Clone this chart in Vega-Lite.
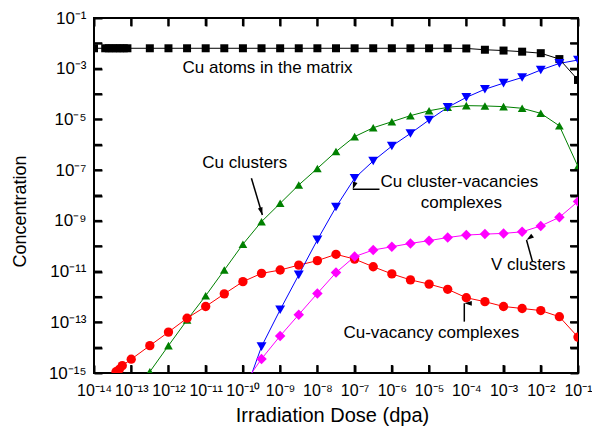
{
  "$schema": "https://vega.github.io/schema/vega-lite/v6.json",
  "width": 484,
  "height": 355,
  "autosize": "none",
  "padding": {"left": 94, "top": 18, "right": 14, "bottom": 56},
  "background": "white",
  "config": {
    "view": {"stroke": "black", "strokeWidth": 2},
    "font": "Liberation Sans",
    "axis": {"domain": false, "grid": false, "ticks": true, "tickOpacity": 1, "tickColor": "#000000", "tickWidth": 2, "labelColor": "black", "titleColor": "black", "labelFont": "Liberation Sans", "titleFont": "Liberation Sans", "titleFontWeight": "normal"}
  },
  "datasets": {
    "series": [
      {"series": "Cu atoms", "dose": 1e-14, "conc": 6.4e-3},
      {"series": "Cu atoms", "dose": 2e-14, "conc": 6.4e-3},
      {"series": "Cu atoms", "dose": 2.5e-14, "conc": 6.4e-3},
      {"series": "Cu atoms", "dose": 3.16e-14, "conc": 6.4e-3},
      {"series": "Cu atoms", "dose": 4e-14, "conc": 6.4e-3},
      {"series": "Cu atoms", "dose": 5e-14, "conc": 6.4e-3},
      {"series": "Cu atoms", "dose": 6.3e-14, "conc": 6.4e-3},
      {"series": "Cu atoms", "dose": 7.9e-14, "conc": 6.4e-3},
      {"series": "Cu atoms", "dose": 3.16e-13, "conc": 6.4e-3},
      {"series": "Cu atoms", "dose": 1e-12, "conc": 6.4e-3},
      {"series": "Cu atoms", "dose": 3.16e-12, "conc": 6.4e-3},
      {"series": "Cu atoms", "dose": 1e-11, "conc": 6.4e-3},
      {"series": "Cu atoms", "dose": 3.16e-11, "conc": 6.4e-3},
      {"series": "Cu atoms", "dose": 1e-10, "conc": 6.4e-3},
      {"series": "Cu atoms", "dose": 3.16e-10, "conc": 6.4e-3},
      {"series": "Cu atoms", "dose": 1e-9, "conc": 6.4e-3},
      {"series": "Cu atoms", "dose": 3.16e-9, "conc": 6.4e-3},
      {"series": "Cu atoms", "dose": 1e-8, "conc": 6.4e-3},
      {"series": "Cu atoms", "dose": 3.16e-8, "conc": 6.4e-3},
      {"series": "Cu atoms", "dose": 1e-7, "conc": 6.4e-3},
      {"series": "Cu atoms", "dose": 3.16e-7, "conc": 6.4e-3},
      {"series": "Cu atoms", "dose": 1e-6, "conc": 6.4e-3},
      {"series": "Cu atoms", "dose": 3.16e-6, "conc": 6.4e-3},
      {"series": "Cu atoms", "dose": 1e-5, "conc": 6.4e-3},
      {"series": "Cu atoms", "dose": 3.16e-5, "conc": 6.4e-3},
      {"series": "Cu atoms", "dose": 1e-4, "conc": 6.3e-3},
      {"series": "Cu atoms", "dose": 3.16e-4, "conc": 5.6e-3},
      {"series": "Cu atoms", "dose": 1e-3, "conc": 5.2e-3},
      {"series": "Cu atoms", "dose": 3.16e-3, "conc": 4.7e-3},
      {"series": "Cu atoms", "dose": 1e-2, "conc": 4.1e-3},
      {"series": "Cu atoms", "dose": 3.16e-2, "conc": 2.4e-3},
      {"series": "Cu atoms", "dose": 1e-1, "conc": 3.6e-4},

      {"series": "Cu clusters", "dose": 3.16e-13, "conc": 1.12e-15},
      {"series": "Cu clusters", "dose": 1e-12, "conc": 1.2e-14},
      {"series": "Cu clusters", "dose": 3.16e-12, "conc": 1.23e-13},
      {"series": "Cu clusters", "dose": 1e-11, "conc": 1.12e-12},
      {"series": "Cu clusters", "dose": 3.16e-11, "conc": 1.15e-11},
      {"series": "Cu clusters", "dose": 1e-10, "conc": 1.2e-10},
      {"series": "Cu clusters", "dose": 3.16e-10, "conc": 9.3e-10},
      {"series": "Cu clusters", "dose": 1e-9, "conc": 4.9e-9},
      {"series": "Cu clusters", "dose": 3.16e-9, "conc": 2.6e-8},
      {"series": "Cu clusters", "dose": 1e-8, "conc": 1.17e-7},
      {"series": "Cu clusters", "dose": 3.16e-8, "conc": 5.4e-7},
      {"series": "Cu clusters", "dose": 1e-7, "conc": 2.1e-6},
      {"series": "Cu clusters", "dose": 3.16e-7, "conc": 4.7e-6},
      {"series": "Cu clusters", "dose": 1e-6, "conc": 8.1e-6},
      {"series": "Cu clusters", "dose": 3.16e-6, "conc": 1.41e-5},
      {"series": "Cu clusters", "dose": 1e-5, "conc": 2.2e-5},
      {"series": "Cu clusters", "dose": 3.16e-5, "conc": 3.0e-5},
      {"series": "Cu clusters", "dose": 1e-4, "conc": 3.5e-5},
      {"series": "Cu clusters", "dose": 3.16e-4, "conc": 3.4e-5},
      {"series": "Cu clusters", "dose": 1e-3, "conc": 3.2e-5},
      {"series": "Cu clusters", "dose": 3.16e-3, "conc": 2.75e-5},
      {"series": "Cu clusters", "dose": 1e-2, "conc": 1.74e-5},
      {"series": "Cu clusters", "dose": 3.16e-2, "conc": 5.6e-6},
      {"series": "Cu clusters", "dose": 1e-1, "conc": 1.38e-7},

      {"series": "Cu-vacancy", "dose": 3.9e-14, "conc": 1.12e-15},
      {"series": "Cu-vacancy", "dose": 4.8e-14, "conc": 1.4e-15},
      {"series": "Cu-vacancy", "dose": 5.75e-14, "conc": 1.95e-15},
      {"series": "Cu-vacancy", "dose": 1e-13, "conc": 3.5e-15},
      {"series": "Cu-vacancy", "dose": 3.16e-13, "conc": 1.2e-14},
      {"series": "Cu-vacancy", "dose": 1e-12, "conc": 4.1e-14},
      {"series": "Cu-vacancy", "dose": 3.16e-12, "conc": 1.45e-13},
      {"series": "Cu-vacancy", "dose": 1e-11, "conc": 4.2e-13},
      {"series": "Cu-vacancy", "dose": 3.16e-11, "conc": 1.32e-12},
      {"series": "Cu-vacancy", "dose": 1e-10, "conc": 4.0e-12},
      {"series": "Cu-vacancy", "dose": 3.16e-10, "conc": 8.5e-12},
      {"series": "Cu-vacancy", "dose": 1e-9, "conc": 1.15e-11},
      {"series": "Cu-vacancy", "dose": 3.16e-9, "conc": 1.8e-11},
      {"series": "Cu-vacancy", "dose": 1e-8, "conc": 2.7e-11},
      {"series": "Cu-vacancy", "dose": 3.16e-8, "conc": 4.8e-11},
      {"series": "Cu-vacancy", "dose": 1e-7, "conc": 3.1e-11},
      {"series": "Cu-vacancy", "dose": 3.16e-7, "conc": 1.55e-11},
      {"series": "Cu-vacancy", "dose": 1e-6, "conc": 8.1e-12},
      {"series": "Cu-vacancy", "dose": 3.16e-6, "conc": 4.7e-12},
      {"series": "Cu-vacancy", "dose": 1e-5, "conc": 3.2e-12},
      {"series": "Cu-vacancy", "dose": 3.16e-5, "conc": 2.0e-12},
      {"series": "Cu-vacancy", "dose": 1e-4, "conc": 9.3e-13},
      {"series": "Cu-vacancy", "dose": 3.16e-4, "conc": 6.5e-13},
      {"series": "Cu-vacancy", "dose": 1e-3, "conc": 4.2e-13},
      {"series": "Cu-vacancy", "dose": 3.16e-3, "conc": 3.5e-13},
      {"series": "Cu-vacancy", "dose": 1e-2, "conc": 2.9e-13},
      {"series": "Cu-vacancy", "dose": 3.16e-2, "conc": 1.66e-13},
      {"series": "Cu-vacancy", "dose": 1e-1, "conc": 2.6e-14},

      {"series": "Cu cluster-vacancies", "dose": 1e-10, "conc": 1e-16},
      {"series": "Cu cluster-vacancies", "dose": 3.16e-10, "conc": 1.1e-14},
      {"series": "Cu cluster-vacancies", "dose": 1e-9, "conc": 3.1e-13},
      {"series": "Cu cluster-vacancies", "dose": 3.16e-9, "conc": 7.4e-12},
      {"series": "Cu cluster-vacancies", "dose": 1e-8, "conc": 1.78e-10},
      {"series": "Cu cluster-vacancies", "dose": 3.16e-8, "conc": 3.5e-9},
      {"series": "Cu cluster-vacancies", "dose": 1e-7, "conc": 4.8e-8},
      {"series": "Cu cluster-vacancies", "dose": 3.16e-7, "conc": 2.3e-7},
      {"series": "Cu cluster-vacancies", "dose": 1e-6, "conc": 8.9e-7},
      {"series": "Cu cluster-vacancies", "dose": 3.16e-6, "conc": 2.8e-6},
      {"series": "Cu cluster-vacancies", "dose": 1e-5, "conc": 9.5e-6},
      {"series": "Cu cluster-vacancies", "dose": 3.16e-5, "conc": 3.0e-5},
      {"series": "Cu cluster-vacancies", "dose": 1e-4, "conc": 7.4e-5},
      {"series": "Cu cluster-vacancies", "dose": 3.16e-4, "conc": 1.55e-4},
      {"series": "Cu cluster-vacancies", "dose": 1e-3, "conc": 2.7e-4},
      {"series": "Cu cluster-vacancies", "dose": 3.16e-3, "conc": 4.5e-4},
      {"series": "Cu cluster-vacancies", "dose": 1e-2, "conc": 8.9e-4},
      {"series": "Cu cluster-vacancies", "dose": 3.16e-2, "conc": 1.62e-3},
      {"series": "Cu cluster-vacancies", "dose": 1e-1, "conc": 2.2e-3},

      {"series": "V clusters", "dose": 1e-10, "conc": 3.2e-16},
      {"series": "V clusters", "dose": 3.16e-10, "conc": 3.6e-15},
      {"series": "V clusters", "dose": 1e-9, "conc": 2.9e-14},
      {"series": "V clusters", "dose": 3.16e-9, "conc": 2.0e-13},
      {"series": "V clusters", "dose": 1e-8, "conc": 1.38e-12},
      {"series": "V clusters", "dose": 3.16e-8, "conc": 9.1e-12},
      {"series": "V clusters", "dose": 1e-7, "conc": 3.9e-11},
      {"series": "V clusters", "dose": 3.16e-7, "conc": 7.1e-11},
      {"series": "V clusters", "dose": 1e-6, "conc": 9.5e-11},
      {"series": "V clusters", "dose": 3.16e-6, "conc": 1.29e-10},
      {"series": "V clusters", "dose": 1e-5, "conc": 1.66e-10},
      {"series": "V clusters", "dose": 3.16e-5, "conc": 2.2e-10},
      {"series": "V clusters", "dose": 1e-4, "conc": 2.75e-10},
      {"series": "V clusters", "dose": 3.16e-4, "conc": 3.0e-10},
      {"series": "V clusters", "dose": 1e-3, "conc": 3.2e-10},
      {"series": "V clusters", "dose": 3.16e-3, "conc": 3.7e-10},
      {"series": "V clusters", "dose": 1e-2, "conc": 6.3e-10},
      {"series": "V clusters", "dose": 3.16e-2, "conc": 1.38e-9},
      {"series": "V clusters", "dose": 1e-1, "conc": 5.8e-9}
    ],
    "labels": [
      {"label": "Cu atoms in the matrix", "dose": 4.6e-10, "conc": 1.07e-3},
      {"label": "Cu clusters", "dose": 1.12e-10, "conc": 1.9e-7},
      {"label": "Cu cluster-vacancies", "dose": 6.5e-5, "conc": 3.4e-8},
      {"label": "complexes", "dose": 7.4e-5, "conc": 5.1e-9},
      {"label": "V clusters", "dose": 4.6e-3, "conc": 1.82e-11},
      {"label": "Cu-vacancy complexes", "dose": 1.15e-5, "conc": 3.8e-14}
    ],
    "arrows": [
      {"name": "a1", "dose": 1.69e-10, "conc": 4.78e-8, "dose2": 3.33e-10, "conc2": 1.71e-9},
      {"name": "a2", "dose": 4.66e-7, "conc": 1.76e-8, "dose2": 8.95e-8, "conc2": 1.76e-8},
      {"name": "a3", "dose": 6.0e-3, "conc": 2.45e-11, "dose2": 4.14e-3, "conc2": 1.76e-10},
      {"name": "a4", "dose": 8.83e-5, "conc": 1.06e-13, "dose2": 8.83e-5, "conc2": 5.6e-13}
    ],
    "xticks": [
      {"dose": 1e-14}, {"dose": 1e-13}, {"dose": 1e-12}, {"dose": 1e-11}, {"dose": 1e-10}, {"dose": 1e-9}, {"dose": 1e-8},
      {"dose": 1e-7}, {"dose": 1e-6}, {"dose": 1e-5}, {"dose": 1e-4}, {"dose": 1e-3}, {"dose": 1e-2}, {"dose": 1e-1}
    ],
    "yticks": [
      {"conc": 1e-15}, {"conc": 1e-14}, {"conc": 1e-13}, {"conc": 1e-12}, {"conc": 1e-11}, {"conc": 1e-10}, {"conc": 1e-9}, {"conc": 1e-8},
      {"conc": 1e-7}, {"conc": 1e-6}, {"conc": 1e-5}, {"conc": 1e-4}, {"conc": 1e-3}, {"conc": 1e-2}, {"conc": 1e-1}
    ]
  },
  "layer": [
    {
      "data": {"name": "series"},
      "mark": {"type": "line", "strokeWidth": 1, "clip": true},
      "encoding": {
        "x": {
          "field": "dose", "type": "quantitative",
          "scale": {"type": "log", "domain": [1e-14, 1e-1], "nice": false},
          "axis": {
            "orient": "bottom",
            "title": "Irradiation Dose (dpa)",
            "titleFontSize": 20,
            "titleBaseline": "middle",
            "titleY": 50,
            "titleX": 238,
            "values": [1e-14, 1e-13, 1e-12, 1e-11, 1e-10, 1e-9, 1e-8, 1e-7, 1e-6, 1e-5, 1e-4, 1e-3, 1e-2, 1e-1],
            "ticks": true,
            "tickSize": 8,
            "offset": -8,
            "labelPadding": 9,
            "labelFontSize": 16,
            "labelOverlap": false,
            "labelFlush": false,
            "labelBound": false,
            "labelExpr": "'10⁻' + (abs(round(log(datum.value)/LN10)) >= 10 ? '¹' + substring('⁰¹²³⁴⁵⁶⁷⁸⁹', abs(round(log(datum.value)/LN10)) - 10, abs(round(log(datum.value)/LN10)) - 9) : substring('⁰¹²³⁴⁵⁶⁷⁸⁹', abs(round(log(datum.value)/LN10)), abs(round(log(datum.value)/LN10)) + 1))"
          }
        },
        "y": {
          "field": "conc", "type": "quantitative",
          "scale": {"type": "log", "domain": [1e-15, 1e-1], "nice": false},
          "axis": {
            "orient": "left",
            "title": "Concentration",
            "titleFontSize": 18,
            "titleAngle": -90,
            "titleBaseline": "middle",
            "titleAlign": "center",
            "titleX": -82,
            "titleY": 193,
            "values": [1e-15, 1e-14, 1e-13, 1e-12, 1e-11, 1e-10, 1e-9, 1e-8, 1e-7, 1e-6, 1e-5, 1e-4, 1e-3, 1e-2, 1e-1],
            "ticks": true,
            "tickSize": 8,
            "offset": -8,
            "labelPadding": 8,
            "labelFontSize": 17,
            "labelOverlap": false,
            "labelFlush": false,
            "labelBound": false,
            "labelExpr": "abs(round(log(datum.value)/LN10)) % 2 == 0 ? '' : ('10⁻' + (abs(round(log(datum.value)/LN10)) >= 10 ? '¹' + substring('⁰¹²³⁴⁵⁶⁷⁸⁹', abs(round(log(datum.value)/LN10)) - 10, abs(round(log(datum.value)/LN10)) - 9) : substring('⁰¹²³⁴⁵⁶⁷⁸⁹', abs(round(log(datum.value)/LN10)), abs(round(log(datum.value)/LN10)) + 1)))"
          }
        },
        "color": {
          "field": "series", "type": "nominal",
          "scale": {"domain": ["Cu atoms", "Cu clusters", "Cu-vacancy", "Cu cluster-vacancies", "V clusters"], "range": ["#000000", "#008000", "#ff0000", "#0000ff", "#ff00ff"]},
          "legend": null
        },
        "order": {"field": "dose", "type": "quantitative"}
      }
    },
    {
      "data": {"name": "series"},
      "mark": {"type": "point", "filled": true, "opacity": 1, "clip": true},
      "encoding": {
        "x": {
          "field": "dose", "type": "quantitative",
          "scale": {"type": "log", "domain": [1e-14, 1e-1], "nice": false},
          "axis": {"orient": "top", "title": null, "labels": false, "ticks": true, "tickSize": 8, "offset": -8, "values": [1e-14, 1e-13, 1e-12, 1e-11, 1e-10, 1e-9, 1e-8, 1e-7, 1e-6, 1e-5, 1e-4, 1e-3, 1e-2, 1e-1]}
        },
        "y": {
          "field": "conc", "type": "quantitative",
          "scale": {"type": "log", "domain": [1e-15, 1e-1], "nice": false},
          "axis": {"orient": "right", "title": null, "labels": false, "ticks": true, "tickSize": 8, "offset": -8, "values": [1e-15, 1e-14, 1e-13, 1e-12, 1e-11, 1e-10, 1e-9, 1e-8, 1e-7, 1e-6, 1e-5, 1e-4, 1e-3, 1e-2, 1e-1]}
        },
        "color": {
          "field": "series", "type": "nominal",
          "scale": {"domain": ["Cu atoms", "Cu clusters", "Cu-vacancy", "Cu cluster-vacancies", "V clusters"], "range": ["#000000", "#008000", "#ff0000", "#0000ff", "#ff00ff"]},
          "legend": null
        },
        "shape": {
          "field": "series", "type": "nominal",
          "scale": {"domain": ["Cu atoms", "Cu clusters", "Cu-vacancy", "Cu cluster-vacancies", "V clusters"], "range": ["square", "triangle-up", "circle", "triangle-down", "diamond"]},
          "legend": null
        },
        "size": {
          "field": "series", "type": "nominal",
          "scale": {"domain": ["Cu atoms", "Cu clusters", "Cu-vacancy", "Cu cluster-vacancies", "V clusters"], "range": [64, 110, 81, 110, 100]},
          "legend": null
        }
      }
    },
    {
      "data": {"name": "xticks"},
      "mark": {"type": "rule", "strokeWidth": 2, "color": "black"},
      "encoding": {
        "x": {"field": "dose", "type": "quantitative", "scale": {"type": "log", "domain": [1e-14, 1e-1], "nice": false}, "axis": null},
        "y": {"datum": 1e-15, "type": "quantitative", "scale": {"type": "log", "domain": [1e-15, 1e-1], "nice": false}, "axis": null},
        "y2": {"datum": 2.07e-15}
      }
    },
    {
      "data": {"name": "xticks"},
      "mark": {"type": "rule", "strokeWidth": 2, "color": "black"},
      "encoding": {
        "x": {"field": "dose", "type": "quantitative", "scale": {"type": "log", "domain": [1e-14, 1e-1], "nice": false}, "axis": null},
        "y": {"datum": 0.1, "type": "quantitative", "scale": {"type": "log", "domain": [1e-15, 1e-1], "nice": false}, "axis": null},
        "y2": {"datum": 0.0484}
      }
    },
    {
      "data": {"name": "yticks"},
      "mark": {"type": "rule", "strokeWidth": 2, "color": "black"},
      "encoding": {
        "y": {"field": "conc", "type": "quantitative", "scale": {"type": "log", "domain": [1e-15, 1e-1], "nice": false}, "axis": null},
        "x": {"datum": 1e-14, "type": "quantitative", "scale": {"type": "log", "domain": [1e-14, 1e-1], "nice": false}, "axis": null},
        "x2": {"datum": 1.64e-14}
      }
    },
    {
      "data": {"name": "yticks"},
      "mark": {"type": "rule", "strokeWidth": 2, "color": "black"},
      "encoding": {
        "y": {"field": "conc", "type": "quantitative", "scale": {"type": "log", "domain": [1e-15, 1e-1], "nice": false}, "axis": null},
        "x": {"datum": 0.1, "type": "quantitative", "scale": {"type": "log", "domain": [1e-14, 1e-1], "nice": false}, "axis": null},
        "x2": {"datum": 0.061}
      }
    },
    {
      "data": {"name": "arrows"},
      "mark": {"type": "rule", "strokeWidth": 1.5, "color": "black"},
      "encoding": {
        "x": {"field": "dose", "type": "quantitative", "scale": {"type": "log", "domain": [1e-14, 1e-1], "nice": false}, "axis": null},
        "y": {"field": "conc", "type": "quantitative", "scale": {"type": "log", "domain": [1e-15, 1e-1], "nice": false}, "axis": null},
        "x2": {"field": "dose2"},
        "y2": {"field": "conc2"}
      }
    },
    {
      "data": {"name": "arrows"},
      "mark": {"type": "point", "shape": "M0,0L-0.32,1L0.32,1Z", "filled": true, "color": "black", "opacity": 1, "size": 225},
      "encoding": {
        "x": {"field": "dose2", "type": "quantitative", "scale": {"type": "log", "domain": [1e-14, 1e-1], "nice": false}, "axis": null},
        "y": {"field": "conc2", "type": "quantitative", "scale": {"type": "log", "domain": [1e-15, 1e-1], "nice": false}, "axis": null},
        "angle": {"field": "name", "type": "nominal", "scale": {"domain": ["a1", "a2", "a3", "a4"], "range": [163, 270, 345, 0]}, "legend": null}
      }
    },
    {
      "data": {"name": "labels"},
      "mark": {"type": "text", "fontSize": 17, "font": "Liberation Sans", "align": "center", "baseline": "middle", "color": "black"},
      "encoding": {
        "x": {"field": "dose", "type": "quantitative", "scale": {"type": "log", "domain": [1e-14, 1e-1], "nice": false}, "axis": null},
        "y": {"field": "conc", "type": "quantitative", "scale": {"type": "log", "domain": [1e-15, 1e-1], "nice": false}, "axis": null},
        "text": {"field": "label", "type": "nominal"}
      }
    }
  ],
  "resolve": {"axis": {"x": "independent", "y": "independent"}}
}
